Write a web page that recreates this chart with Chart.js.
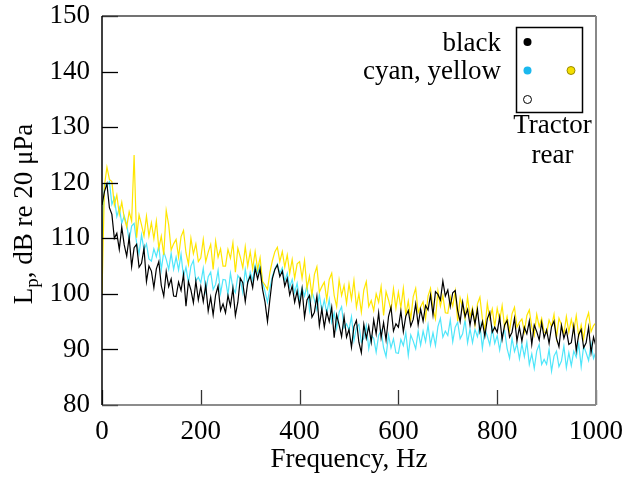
<!DOCTYPE html>
<html>
<head>
<meta charset="utf-8">
<script src="https://cdn.jsdelivr.net/npm/chart.js@4.4.1/dist/chart.umd.min.js"></script>
<style>
  html, body { margin: 0; padding: 0; background: #fff; }
  #wrap { width: 627px; height: 477px; position: relative; }
</style>
</head>
<body>
<div id="wrap"><canvas id="spectrum"></canvas></div>
<script>
// frequency grid, Hz
const freq = [
  0, 5, 10, 15, 20, 25, 30, 35, 40, 45, 50, 55, 60, 65, 70, 75, 80, 85, 90, 95,
  100, 105, 110, 115, 120, 125, 130, 135, 140, 145, 150, 155, 160, 165, 170, 175, 180, 185, 190, 195,
  200, 205, 210, 215, 220, 225, 230, 235, 240, 245, 250, 255, 260, 265, 270, 275, 280, 285, 290, 295,
  300, 305, 310, 315, 320, 325, 330, 335, 340, 345, 350, 355, 360, 365, 370, 375, 380, 385, 390, 395,
  400, 405, 410, 415, 420, 425, 430, 435, 440, 445, 450, 455, 460, 465, 470, 475, 480, 485, 490, 495,
  500, 505, 510, 515, 520, 525, 530, 535, 540, 545, 550, 555, 560, 565, 570, 575, 580, 585, 590, 595,
  600, 605, 610, 615, 620, 625, 630, 635, 640, 645, 650, 655, 660, 665, 670, 675, 680, 685, 690, 695,
  700, 705, 710, 715, 720, 725, 730, 735, 740, 745, 750, 755, 760, 765, 770, 775, 780, 785, 790, 795,
  800, 805, 810, 815, 820, 825, 830, 835, 840, 845, 850, 855, 860, 865, 870, 875, 880, 885, 890, 895,
  900, 905, 910, 915, 920, 925, 930, 935, 940, 945, 950, 955, 960, 965, 970, 975, 980, 985, 990, 995,
  1000
];

// Lp, dB re 20 µPa
const blackLevel = [
  116.0, 118.4, 119.8, 115.5, 114.3, 110.0, 110.9, 108.0, 112.0, 108.8,
  106.8, 110.2, 104.9, 108.3, 108.9, 104.8, 105.5, 108.2, 102.2, 105.0,
  104.1, 101.1, 104.5, 105.8, 101.5, 99.6, 104.0, 101.3, 102.7, 99.6,
  99.5, 102.1, 100.6, 103.5, 97.8, 102.2, 100.7, 98.4, 102.3, 98.9,
  101.3, 98.6, 101.6, 96.9, 99.4, 96.2, 99.8, 101.4, 97.0, 98.2,
  96.6, 99.7, 97.8, 101.0, 96.1, 98.5, 102.8, 102.0, 98.6, 102.1,
  103.2, 101.1, 104.6, 102.7, 104.5, 100.8, 98.5, 95.0, 99.1, 102.8,
  104.4, 105.2, 103.1, 104.1, 101.4, 102.8, 99.8, 101.4, 98.5, 100.5,
  97.8, 100.9, 95.8, 98.9, 99.7, 95.8, 96.7, 99.6, 94.3, 97.3,
  94.0, 96.8, 95.0, 97.6, 92.1, 96.2, 94.4, 92.3, 95.9, 92.2,
  93.6, 90.4, 94.1, 95.2, 91.3, 89.4, 94.5, 92.0, 94.2, 91.3,
  95.3, 92.8, 96.6, 92.1, 94.8, 91.7, 95.9, 97.6, 93.3, 94.6,
  94.0, 96.9, 93.2, 96.0, 97.0, 94.2, 95.4, 98.2, 94.4, 97.2,
  95.1, 97.9, 97.1, 99.8, 96.2, 100.4, 99.9, 98.9, 102.3, 99.6,
  100.7, 97.7, 100.2, 100.6, 97.0, 95.0, 98.5, 95.9, 97.2, 94.4,
  97.0, 94.6, 97.2, 93.2, 95.0, 92.4, 95.5, 96.7, 93.1, 94.0,
  93.1, 95.8, 91.8, 94.4, 95.2, 92.2, 93.1, 95.6, 91.5, 94.0,
  91.5, 94.0, 92.8, 95.1, 90.9, 94.4, 93.2, 91.7, 94.8, 92.1,
  93.5, 91.1, 94.1, 95.1, 92.0, 90.5, 94.3, 92.0, 93.5, 90.9,
  91.2, 94.2, 89.8, 92.7, 93.6, 90.3, 91.2, 94.0, 89.4, 92.2,
  90.5
];

const cyanLevel = [
  110.0, 119.8, 119.4, 120.2, 116.1, 117.3, 113.9, 115.5, 112.7, 114.0,
  112.5, 109.6, 112.2, 112.7, 109.2, 107.2, 110.6, 107.9, 109.0, 106.3,
  105.9, 108.1, 106.7, 108.7, 104.3, 107.6, 106.2, 104.4, 107.3, 104.4,
  106.6, 104.3, 107.1, 103.0, 104.8, 102.0, 105.0, 106.0, 102.3, 103.0,
  102.0, 104.6, 100.5, 103.1, 103.9, 100.8, 101.7, 104.2, 100.1, 102.6,
  102.5, 99.8, 103.7, 101.1, 100.2, 103.3, 102.6, 100.2, 104.4, 101.8,
  103.9, 102.4, 105.2, 103.7, 105.3, 102.1, 100.4, 98.5, 101.1, 103.2,
  104.5, 105.4, 103.7, 104.7, 102.3, 103.7, 101.2, 102.6, 100.2, 101.9,
  98.9, 101.1, 99.6, 101.6, 97.1, 100.4, 98.9, 97.1, 99.9, 96.9,
  98.9, 96.5, 99.0, 94.9, 96.6, 93.8, 96.7, 97.7, 93.9, 94.6,
  93.5, 95.9, 91.6, 93.9, 94.5, 91.3, 92.0, 94.3, 90.1, 92.5,
  92.0, 89.5, 92.5, 93.4, 90.3, 88.7, 92.6, 90.3, 91.9, 89.4,
  89.3, 91.8, 90.7, 93.0, 88.9, 92.6, 91.5, 90.1, 93.3, 90.8,
  93.3, 91.4, 94.4, 90.8, 93.0, 90.7, 94.1, 95.6, 92.2, 93.3,
  92.5, 95.3, 91.4, 94.0, 94.9, 91.9, 92.8, 95.3, 91.2, 93.7,
  91.2, 93.6, 92.3, 94.5, 90.2, 93.7, 92.4, 90.8, 93.8, 91.1,
  92.5, 89.9, 92.7, 93.4, 90.2, 88.4, 92.0, 89.6, 91.0, 88.3,
  91.0, 88.7, 91.3, 87.3, 89.2, 86.6, 89.7, 90.9, 87.3, 88.2,
  87.3, 90.0, 86.1, 88.8, 89.7, 86.9, 87.9, 90.6, 86.7, 89.4,
  87.1, 89.7, 88.6, 91.0, 86.9, 90.6, 89.4, 88.0, 91.1, 88.4,
  89.6
];

const yellowLevel = [
  100.0, 119.5, 122.8, 120.6, 120.2, 116.0, 117.8, 114.3, 116.5, 113.7,
  112.0, 114.8, 113.1, 125.0, 110.1, 114.2, 112.4, 110.4, 114.0, 110.4,
  112.8, 109.9, 113.1, 108.2, 110.4, 107.0, 115.0, 112.4, 107.9, 109.0,
  109.8, 106.6, 110.3, 111.4, 107.4, 105.3, 110.0, 107.2, 109.0, 105.8,
  106.5, 109.8, 105.8, 107.5, 108.9, 104.4, 109.5, 106.6, 108.1, 105.0,
  105.0, 108.0, 106.4, 109.2, 103.9, 108.2, 106.6, 104.7, 108.5, 105.0,
  107.6, 104.5, 107.6, 104.4, 106.5, 102.2, 101.6, 100.8, 103.9, 106.0,
  107.6, 108.4, 105.8, 107.6, 104.8, 107.0, 103.7, 106.2, 102.8, 105.4,
  105.8, 102.8, 106.0, 101.0, 103.2, 99.7, 103.5, 104.9, 100.3, 101.3,
  102.1, 98.9, 102.6, 103.7, 99.7, 97.7, 102.5, 99.7, 101.5, 98.3,
  101.8, 99.0, 102.4, 97.6, 100.0, 96.7, 100.7, 102.2, 97.7, 98.8,
  97.0, 100.0, 98.5, 101.3, 96.1, 100.4, 98.9, 97.0, 100.9, 97.4,
  100.3, 97.5, 101.0, 96.2, 98.7, 95.4, 99.5, 101.0, 96.6, 97.7,
  98.6, 95.6, 99.6, 101.0, 97.3, 95.5, 100.5, 97.8, 99.7, 96.6,
  96.5, 99.5, 97.8, 100.5, 95.1, 99.3, 97.6, 95.6, 99.4, 95.9,
  97.5, 94.4, 98.2, 99.4, 95.5, 93.5, 98.3, 95.5, 97.3, 94.1,
  97.4, 95.2, 97.9, 94.0, 95.9, 93.3, 96.4, 97.6, 94.0, 94.9,
  95.5, 93.1, 96.1, 97.1, 94.0, 92.5, 96.3, 94.1, 95.6, 93.1,
  92.9, 95.3, 94.1, 96.3, 92.1, 95.6, 94.4, 92.8, 95.9, 93.1,
  95.4, 93.3, 96.1, 92.3, 94.4, 91.9, 95.2, 96.6, 93.2, 94.3,
  94.8
];

const xTicks = [0, 200, 400, 600, 800, 1000];
const yTicks = [80, 90, 100, 110, 120, 130, 140, 150];

const FONT = "'Liberation Serif', 'Times New Roman', serif";
const FONT_SIZE = 27;

function toPoints(values) {
  return freq.map((f, i) => ({ x: f, y: values[i] }));
}

// frame, inward ticks, y title with subscript, marker key
const decorPlugin = {
  id: "decor",
  afterDatasetsDraw(chart) {
    const ctx = chart.ctx;
    const { left, right, top, bottom } = chart.chartArea;
    const xs = chart.scales.x;
    const ys = chart.scales.y;
    ctx.save();

    // ticks
    ctx.lineWidth = 1.3;
    ctx.strokeStyle = "#000";
    yTicks.forEach((v) => {
      const py = Math.round(ys.getPixelForValue(v)) + 0.5;
      ctx.beginPath();
      ctx.moveTo(left, py);
      ctx.lineTo(left + 16, py);
      ctx.stroke();
    });
    ctx.strokeStyle = "#333";
    xTicks.forEach((v) => {
      const px = Math.round(xs.getPixelForValue(v)) + 0.5;
      ctx.beginPath();
      ctx.moveTo(px, bottom);
      ctx.lineTo(px, bottom - 15);
      ctx.stroke();
    });

    // frame
    ctx.lineWidth = 1.5;
    ctx.strokeStyle = "#444";
    ctx.beginPath();
    ctx.moveTo(left, top);
    ctx.lineTo(right, top);
    ctx.stroke();
    ctx.strokeStyle = "#666";
    ctx.beginPath();
    ctx.moveTo(left, bottom);
    ctx.lineTo(right, bottom);
    ctx.stroke();
    ctx.lineWidth = 2;
    ctx.strokeStyle = "#888";
    ctx.beginPath();
    ctx.moveTo(right, top);
    ctx.lineTo(right, bottom);
    ctx.stroke();
    ctx.lineWidth = 1.5;
    ctx.strokeStyle = "#000";
    ctx.beginPath();
    ctx.moveTo(left, top);
    ctx.lineTo(left, bottom);
    ctx.stroke();

    // y axis title: L_p, dB re 20 µPa
    ctx.fillStyle = "#000";
    ctx.textBaseline = "alphabetic";
    ctx.textAlign = "left";
    const big = FONT_SIZE + "px " + FONT;
    const small = "19px " + FONT;
    ctx.font = big;
    const wL = ctx.measureText("L").width;
    const rest = ", dB re 20 \u03bcPa";
    const wRest = ctx.measureText(rest).width;
    ctx.font = small;
    const wP = ctx.measureText("p").width;
    const total = wL + wP + wRest;
    ctx.translate(31.5, 214 + total / 2);
    ctx.rotate(-Math.PI / 2);
    ctx.font = big;
    ctx.fillText("L", 0, 0);
    ctx.font = small;
    ctx.fillText("p", wL, 6);
    ctx.font = big;
    ctx.fillText(rest, wL + wP, 0);
    ctx.setTransform(1, 0, 0, 1, 0, 0);

    // marker key
    ctx.lineWidth = 1.5;
    ctx.strokeStyle = "#000";
    ctx.strokeRect(516.5, 27.5, 66, 85);
    const dot = (x, y, fill, stroke) => {
      ctx.beginPath();
      ctx.arc(x, y, 4, 0, Math.PI * 2);
      if (fill) {
        ctx.fillStyle = fill;
        ctx.fill();
      }
      if (stroke) {
        ctx.lineWidth = 1;
        ctx.strokeStyle = stroke;
        ctx.stroke();
      }
    };
    dot(527.5, 42, "#000", null);
    dot(527.5, 70.5, "#1bb8ee", null);
    dot(571, 70.5, "#f4df00", "#9a8a00");
    dot(527.5, 99.5, "#fff", "#000");

    ctx.fillStyle = "#000";
    ctx.font = big;
    ctx.textAlign = "right";
    ctx.fillText("black", 501, 51);
    ctx.fillText("cyan, yellow", 501, 79);
    ctx.textAlign = "center";
    ctx.fillText("Tractor", 552.5, 133);
    ctx.fillText("rear", 552.5, 163);

    ctx.restore();
  },
};

const chart = new Chart(document.getElementById("spectrum").getContext("2d"), {
  type: "line",
  data: {
    datasets: [
      {
        label: "black",
        data: toPoints(blackLevel),
        borderColor: "#000000",
        borderWidth: 1.2,
        pointRadius: 0,
        tension: 0,
        order: 1,
      },
      {
        label: "yellow",
        data: toPoints(yellowLevel),
        borderColor: "#ffe600",
        borderWidth: 1.2,
        pointRadius: 0,
        tension: 0,
        order: 2,
      },
      {
        label: "cyan",
        data: toPoints(cyanLevel),
        borderColor: "#4fe6fa",
        borderWidth: 1.2,
        pointRadius: 0,
        tension: 0,
        order: 3,
      },
    ],
  },
  options: {
    responsive: true,
    maintainAspectRatio: false,
    animation: false,
    layout: {
      padding: { top: 16, right: 31, left: 0, bottom: 0 },
    },
    plugins: {
      legend: { display: false },
      tooltip: { enabled: false },
      title: { display: false },
    },
    scales: {
      x: {
        type: "linear",
        min: 0,
        max: 1000,
        afterFit: (scale) => {
          scale.height = 72;
          scale.paddingLeft = 0;
          scale.paddingRight = 0;
        },
        afterBuildTicks: (scale) => {
          scale.ticks = xTicks.map((v) => ({ value: v }));
        },
        grid: { display: false, drawTicks: false },
        border: { display: false },
        ticks: {
          color: "#000",
          padding: 11,
          maxRotation: 0,
          callback: (v) => String(v),
          font: { family: FONT, size: FONT_SIZE },
        },
        title: {
          display: true,
          text: "Frequency, Hz",
          color: "#000",
          padding: { top: 0, bottom: 1 },
          font: { family: FONT, size: FONT_SIZE },
        },
      },
      y: {
        type: "linear",
        min: 80,
        max: 150,
        afterFit: (scale) => {
          scale.width = 102;
          scale.paddingTop = 0;
          scale.paddingBottom = 0;
        },
        afterBuildTicks: (scale) => {
          scale.ticks = yTicks.map((v) => ({ value: v }));
        },
        grid: { display: false, drawTicks: false },
        border: { display: false },
        ticks: {
          color: "#000",
          padding: 12,
          font: { family: FONT, size: FONT_SIZE },
        },
      },
    },
  },
  plugins: [decorPlugin],
});
</script>
</body>
</html>
